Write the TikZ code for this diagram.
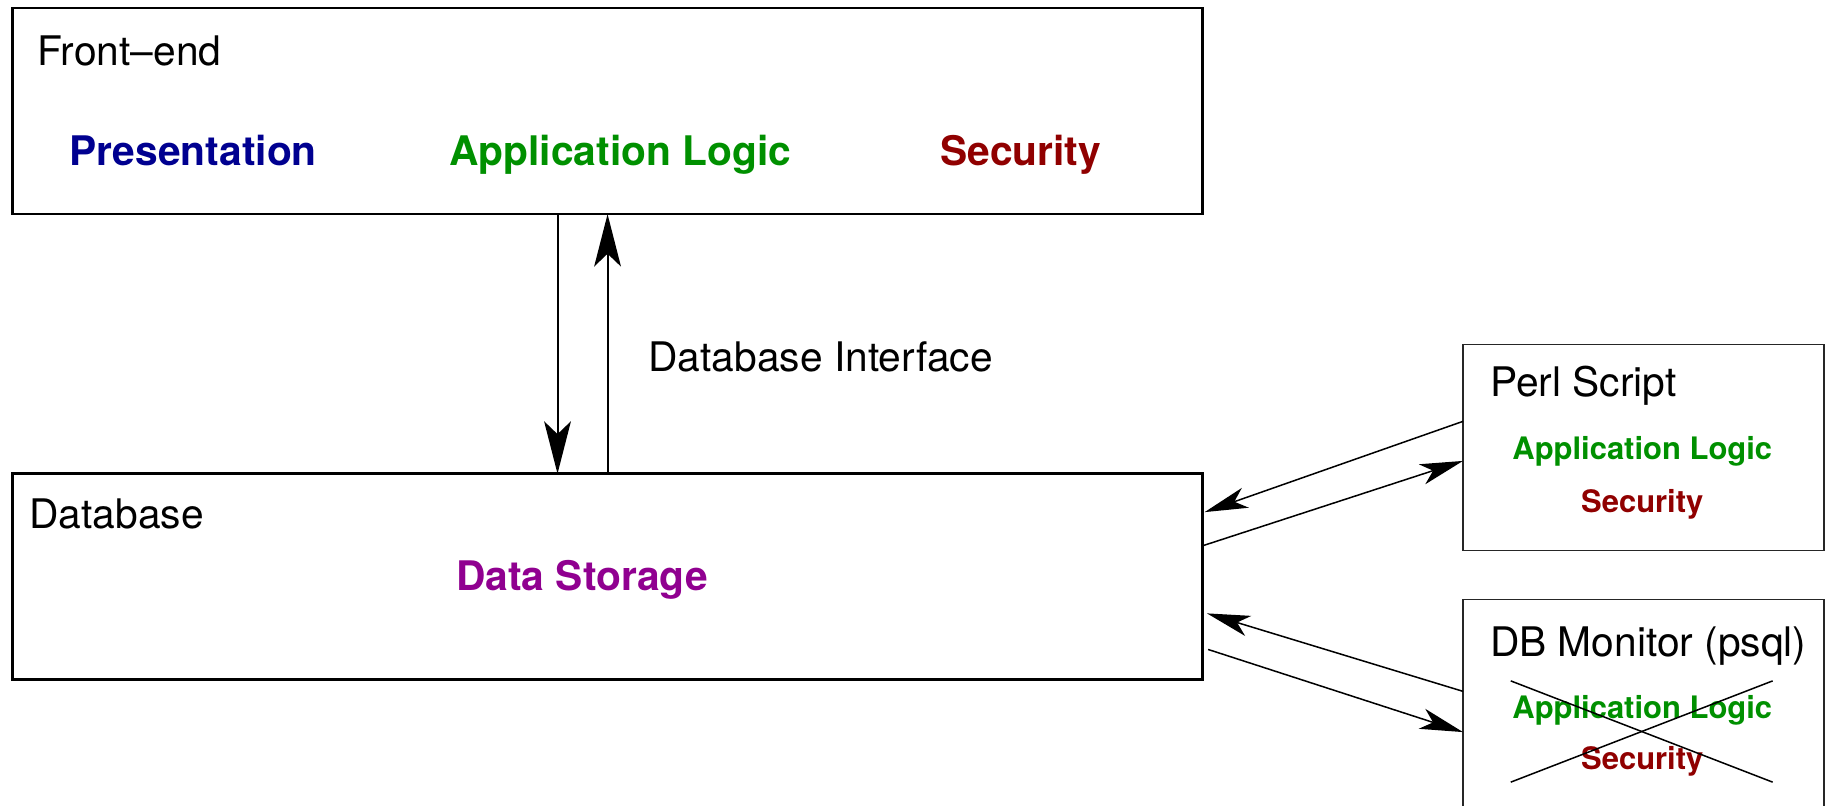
\documentclass[tikz,border=0pt]{standalone}
\usepackage{fontspec}
\setmainfont{TeX Gyre Heros}
\usetikzlibrary{arrows.meta}
\definecolor{xblue}{RGB}{0,0,144}
\definecolor{xgreen}{RGB}{0,144,0}
\definecolor{xred}{RGB}{144,0,0}
\definecolor{xmag}{RGB}{144,0,144}
\tikzset{
  bigbox/.style={draw=black, line width=2.3pt, inner sep=0pt, outer sep=0pt, anchor=north west},
  smallbox/.style={draw=black!85, line width=1.5pt, inner sep=0pt, outer sep=0pt, anchor=north west},
  lbl/.style={inner sep=0pt, font=\fontsize{35}{42}\selectfont},
  blbl/.style={inner sep=0pt, font=\fontsize{35}{42}\selectfont\bfseries},
  slbl/.style={inner sep=0pt, font=\fontsize{26.6}{32}\selectfont\bfseries},
  varr/.style={line width=1.7pt, -{Stealth[length=45pt,width=23pt,inset=11pt]}},
  darr/.style={line width=1.3pt, -{Stealth[length=37pt,width=18pt,inset=10pt]}},
  crossline/.style={line width=1.3pt},
}
\begin{document}
\begin{tikzpicture}[x=1pt,y=-1pt]
\useasboundingbox (0,0) rectangle (1568,692);
\clip (0,0) rectangle (1568,692);
\fill[white] (0,0) rectangle (1568,692);
% boxes
\node[bigbox, minimum width=1022pt, minimum height=177pt] (fe) at (11,7) {};
\node[bigbox, minimum width=1022pt, minimum height=177pt] (db) at (11,407) {};
\node[smallbox, minimum width=310pt, minimum height=177pt] (perl) at (1257,296) {};
\node[smallbox, minimum width=310pt, minimum height=190pt] (mon) at (1257,515) {};
% front-end texts
\node[lbl, anchor=base west] (fet) at (32,56) {Front–end};
\node[blbl, anchor=base, text=xblue] (pres) at (166,142) {Presentation};
\node[blbl, anchor=base, text=xgreen] (app) at (533,142) {Application Logic};
\node[blbl, anchor=base, text=xred] (sec) at (877,142) {Security};
% interface
\node[lbl, anchor=base west] (dbi) at (557,319) {Database Interface};
% database texts
\node[lbl, anchor=base west] (dbt) at (25,454) {Database};
\node[blbl, anchor=base, text=xmag] (ds) at (500,507) {Data Storage};
% perl texts
\node[lbl, anchor=base west] (perlt) at (1280,341) {Perl Script};
\node[slbl, anchor=base, text=xgreen] (papp) at (1411,395) {Application Logic};
\node[slbl, anchor=base, text=xred] (psec) at (1411,440) {Security};
% monitor texts
\node[lbl, anchor=base west] (mont) at (1280,564) {DB Monitor (psql)};
\node[slbl, anchor=base, text=xgreen] (mapp) at (1411,617) {Application Logic};
\node[slbl, anchor=base, text=xred] (msec) at (1411,661) {Security};
% cross
\coordinate (c1) at (1298,585);
\coordinate (c2) at (1523,672);
\coordinate (c3) at (1298,672);
\coordinate (c4) at (1523,585);
\draw[crossline] (c1) -- (c2);
\draw[crossline] (c3) -- (c4);
% vertical arrows
\draw[varr] ([xshift=-43pt]fe.south) -- ([xshift=-43pt]db.north);
\draw[varr] (db.north) -- (fe.south);
% diagonal arrows
\draw[darr] ([yshift=22.5pt]perl.west) -- ([xshift=2pt,yshift=55.5pt]db.east);
\draw[darr] ([yshift=26.5pt]db.east) -- ([yshift=-11.5pt]perl.west);
\draw[darr] ([yshift=16pt]mon.west) -- ([xshift=4pt,yshift=-31.5pt]db.east);
\draw[darr] ([xshift=5pt,yshift=-62.5pt]db.east) -- ([yshift=-19pt]mon.west);
\end{tikzpicture}
\end{document}
